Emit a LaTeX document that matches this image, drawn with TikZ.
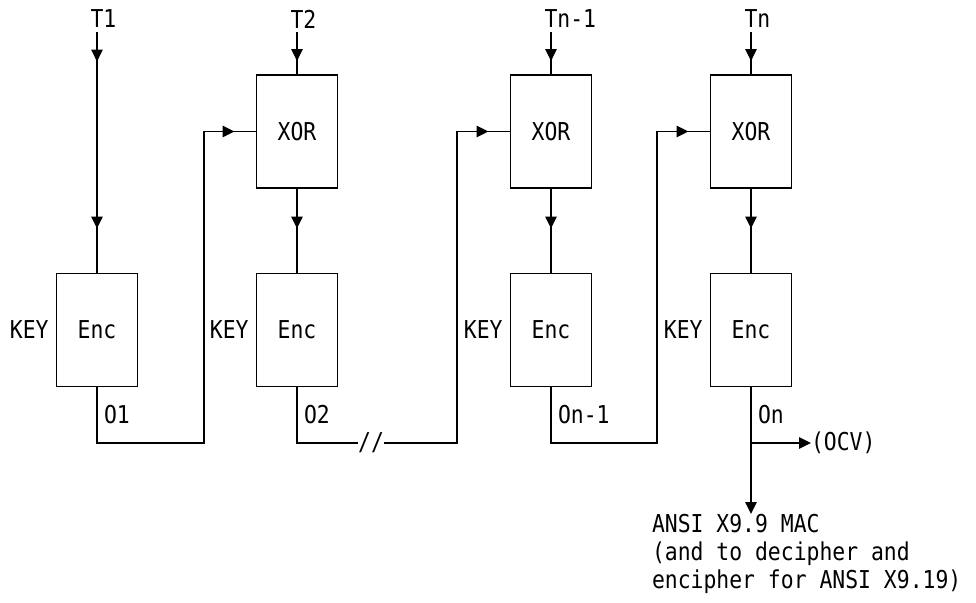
\documentclass[tikz,border=0pt]{standalone}
\usepackage{fontspec}
\newfontfamily\diagfont[FakeStretch=0.87]{DejaVu Sans Mono}
\usetikzlibrary{arrows.meta,decorations.markings,positioning}

\tikzset{
  caja/.style={draw, minimum width=57.6pt, minimum height=80.4pt, inner sep=0pt},
  etiq/.style={inner sep=0pt, outer sep=0pt},
  etiqT/.style={inner xsep=0pt, inner ysep=3pt, outer sep=0pt},
  punta/.style={-{Triangle[length=8.5pt,width=8pt]}},
  flecha/.style={postaction={decorate, decoration={markings,
      mark=at position #1 with {\arrow{Triangle[length=8.5pt,width=8pt]}}}}},
}

\begin{document}
\begin{tikzpicture}[x=0.025cm, y=-0.025cm, line width=1.3pt,
    font=\diagfont\fontsize{17.5}{20}\selectfont]
  \useasboundingbox (0,0) rectangle (976,603);
  % las cajas
  \node[caja] (xor2) at (297,131.5) {XOR};
  \node[caja] (xor3) at (551,131.5) {XOR};
  \node[caja] (xor4) at (751,131.5) {XOR};
  \node[caja] (enc1) at (97,330) {Enc};
  \node[caja] (enc2) at (297,330) {Enc};
  \node[caja] (enc3) at (551,330) {Enc};
  \node[caja] (enc4) at (751,330) {Enc};
  % los textos de entrada
  \node[etiqT, anchor=west] (t1) at (90.5,19) {T1};
  \node[etiqT, anchor=west] (t2) at (290.5,19) {T2};
  \node[etiqT, anchor=west] (t3) at (544.5,19) {Tn-1};
  \node[etiqT, anchor=west] (t4) at (744.5,19) {Tn};
  % las claves y las salidas
  \foreach \n in {1,2,3,4} {
    \node[etiq, anchor=east] (key\n) at ([xshift=-5pt]enc\n.west) {KEY};
  }
  \node[etiq, anchor=west] (o1) at (104,415) {O1};
  \node[etiq, anchor=west] (o2) at (304,415) {O2};
  \node[etiq, anchor=west] (o3) at (558,415) {On-1};
  \node[etiq, anchor=west] (o4) at (758,415) {On};
  % entradas hacia abajo
  \draw[flecha=-150pt, flecha=-31.3pt] (enc1 |- t1.south) -- (enc1.north);
  \foreach \n in {2,3,4} {
    \draw[flecha=-9.2pt] (enc\n |- t\n.south) -- (xor\n.north);
    \draw[flecha=-31.3pt] (xor\n.south) -- (enc\n.north);
  }
  % las vueltas de cada salida al XOR siguiente
  \coordinate (r1) at (204,443);
  \coordinate (r2) at (457,443);
  \coordinate (r3) at (657,443);
  \node[etiq] (corte) at (371,443) {//};
  \draw[flecha=-15pt] (enc1.south) |- (r1) |- (xor2.west);
  \draw (enc2.south) |- (corte.west);
  \draw[flecha=-15pt] (corte.east) -- (r2) |- (xor3.west);
  \draw[flecha=-15pt] (enc3.south) |- (r3) |- (xor4.west);
  % la salida final
  \coordinate (rama) at (751,443);
  \node[etiq, anchor=west] (ocv) at (811,443) {(OCV)};
  \node[etiq, anchor=north west, align=left] (mac) at (652,514)
    {ANSI X9.9 MAC\\(and to decipher and\\encipher for ANSI X9.19)};
  \draw[punta] (rama) -- (rama -| ocv.west);
  \draw[punta] (enc4.south) -- (enc4.south |- mac.north);
\end{tikzpicture}
\end{document}
